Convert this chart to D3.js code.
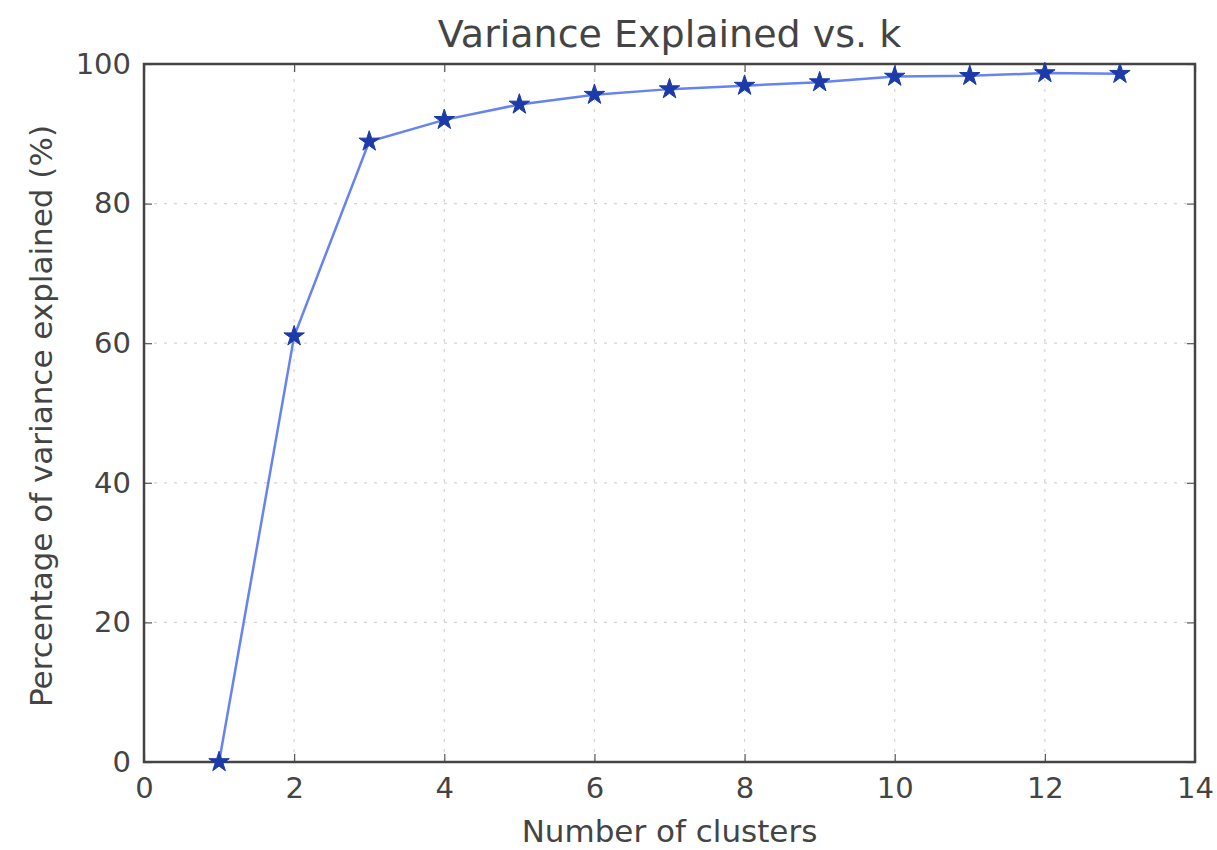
<!DOCTYPE html>
<html>
<head>
<meta charset="utf-8">
<script src="https://cdn.jsdelivr.net/npm/d3@7"></script>
<style>
  body { margin: 0; background: #fff; }
  text { font-family: "DejaVu Sans", sans-serif; fill: #444; }
</style>
</head>
<body>
<div id="chart"></div>
<script>
// data
var clusters = [1, 2, 3, 4, 5, 6, 7, 8, 9, 10, 11, 12, 13];
var variance = [0, 61.0, 88.9, 92.0, 94.2, 95.6, 96.4, 96.9, 97.4, 98.2, 98.3, 98.7, 98.6];
var xTicks = [0, 2, 4, 6, 8, 10, 12, 14];
var yTicks = [0, 20, 40, 60, 80, 100];

var W = 1217, H = 850;
var margin = {left: 144, right: 22, top: 64, bottom: 88};

var svg = d3.select("#chart")
  .append("svg")
    .attr("width", W)
    .attr("height", H)

var x = d3.scaleLinear().domain([0, 14]).range([margin.left, W - margin.right]);
var y = d3.scaleLinear().domain([0, 100]).range([H - margin.bottom, margin.top]);

// dotted grid
svg.append("g")
  .selectAll("line.gx")
  .data(xTicks.slice(1, -1))
  .enter()
  .append("line")
    .attr("x1", function(d) { return x(d); })
    .attr("x2", function(d) { return x(d); })
    .attr("y1", y(0))
    .attr("y2", y(100))
    .style("stroke", "#d4d4d4")
    .style("stroke-width", 1.2)
    .style("stroke-dasharray", "3,7");

svg.append("g")
  .selectAll("line.gy")
  .data(yTicks.slice(1, -1))
  .enter()
  .append("line")
    .attr("x1", x(0))
    .attr("x2", x(14))
    .attr("y1", function(d) { return y(d); })
    .attr("y2", function(d) { return y(d); })
    .style("stroke", "#d4d4d4")
    .style("stroke-width", 1.2)
    .style("stroke-dasharray", "3,7");

// axes with inward ticks, on all four sides
function styleAxis(g) {
  g.select(".domain").remove();
  g.selectAll(".tick line").style("stroke", "#555").style("stroke-width", 1.2);
  g.selectAll(".tick text").style("font-size", "29px").style("fill", "#444")
    .style("font-family", "DejaVu Sans, sans-serif");
}

svg.append("g")
  .attr("transform", "translate(0," + y(0) + ")")
  .call(d3.axisBottom(x).tickValues(xTicks).tickSize(-8).tickPadding(15).tickFormat(d3.format("d")))
  .call(styleAxis);

svg.append("g")
  .attr("transform", "translate(0," + y(100) + ")")
  .call(d3.axisTop(x).tickValues(xTicks).tickSize(-8).tickFormat(""))
  .call(styleAxis);

svg.append("g")
  .attr("transform", "translate(" + x(0) + ",0)")
  .call(d3.axisLeft(y).tickValues(yTicks).tickSize(-8).tickPadding(13).tickFormat(d3.format("d")))
  .call(styleAxis);

svg.append("g")
  .attr("transform", "translate(" + x(14) + ",0)")
  .call(d3.axisRight(y).tickValues(yTicks).tickSize(-8).tickFormat(""))
  .call(styleAxis);

// frame
svg.append("rect")
  .attr("x", x(0))
  .attr("y", y(100))
  .attr("width", x(14) - x(0))
  .attr("height", y(0) - y(100))
  .style("fill", "none")
  .style("stroke", "#444")
  .style("stroke-width", 2.5);

// line
var pts = clusters.map(function(k, i) { return [k, variance[i]]; });

svg.append("path")
  .datum(pts)
  .attr("d", d3.line()
    .x(function(d) { return x(d[0]); })
    .y(function(d) { return y(d[1]); })
  )
  .style("fill", "none")
  .style("stroke", "#6683f2")
  .style("stroke-width", 2.5);

// star markers
svg.append("g")
  .selectAll("path")
  .data(pts)
  .enter()
  .append("path")
    .attr("transform", function(d) { return "translate(" + x(d[0]) + "," + y(d[1]) + ")"; })
    .attr("d", d3.symbol().type(d3.symbolStar).size(130))
    .style("fill", "#1c3aa8")
    .style("stroke", "#1c3aa8")
    .style("stroke-width", 1);

// title and labels
svg.append("text")
  .attr("x", (x(0) + x(14)) / 2)
  .attr("y", 47)
  .attr("text-anchor", "middle")
  .style("font-size", "38px")
  .text("Variance Explained vs. k");

svg.append("text")
  .attr("x", (x(0) + x(14)) / 2)
  .attr("y", 842)
  .attr("text-anchor", "middle")
  .style("font-size", "31px")
  .text("Number of clusters");

svg.append("text")
  .attr("transform", "translate(52," + (y(50) + 3) + ") rotate(-90)")
  .attr("text-anchor", "middle")
  .style("font-size", "31px")
  .text("Percentage of variance explained (%)");
</script>
</body>
</html>
